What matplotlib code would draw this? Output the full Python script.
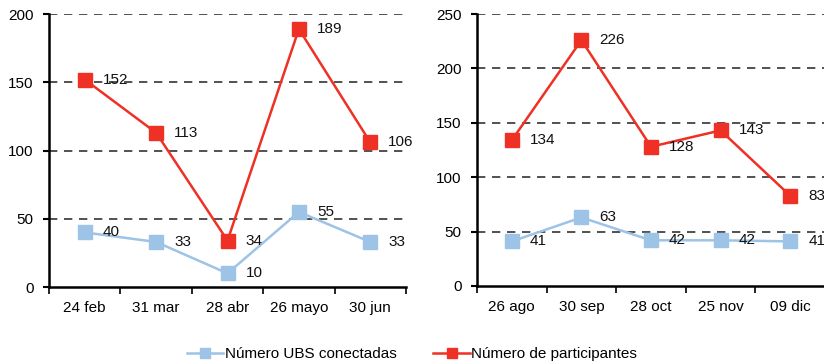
import matplotlib.pyplot as plt

plt.rcParams['font.family'] = ['Liberation Sans', 'DejaVu Sans']

labels_a = ['24 feb', '31 mar', '28 abr', '26 mayo', '30 jun']
ubs_a = [40, 33, 10, 55, 33]
part_a = [152, 113, 34, 189, 106]

labels_b = ['26 ago', '30 sep', '28 oct', '25 nov', '09 dic']
ubs_b = [41, 63, 42, 42, 41]
part_b = [134, 226, 128, 143, 83]

blue = '#9DC3E6'
red = '#EE3124'

fig = plt.figure(figsize=(8.24, 3.64), dpi=100)
ax1 = fig.add_axes([0.0595, 0.2115, 0.4332, 0.75])
ax2 = fig.add_axes([0.5789, 0.2143, 0.4223, 0.7472])


def draw(ax, labels, ubs, part, ymax):
    x = list(range(len(labels)))
    ax.plot(x, ubs, color=blue, lw=1.8, marker='s', ms=9.5, mec=blue, mfc=blue,
            label='Número UBS conectadas', zorder=3, clip_on=False)
    ax.plot(x, part, color=red, lw=1.8, marker='s', ms=9.5, mec=red, mfc=red,
            label='Número de participantes', zorder=3, clip_on=False)
    for xs in (ubs, part):
        for i, v in enumerate(xs):
            ax.annotate(str(v), (i, v), xytext=(13, 0), textcoords='offset points',
                        ha='left', va='center', fontsize=11, color='#111111',
                        annotation_clip=False, zorder=4)
    ax.set_xlim(-0.5, len(labels) - 0.5)
    ax.set_ylim(0, ymax)
    ax.set_yticks(range(0, ymax + 1, 50))
    ax.tick_params(axis='y', length=4, width=1.5, labelsize=11, pad=7)
    ax.set_xticks([i - 0.5 for i in range(len(labels) + 1)])
    ax.set_xticklabels([])
    ax.set_xticks(x, minor=True)
    ax.set_xticklabels(labels, minor=True, fontsize=11)
    ax.tick_params(axis='x', which='major', length=5, width=1.2)
    ax.tick_params(axis='x', which='minor', length=0, pad=10)
    for g in range(50, ymax + 1, 50):
        ax.axhline(g, color='#333333', lw=1.2, ls=(0, (5, 4)), zorder=1)
    for s in ('top', 'right'):
        ax.spines[s].set_visible(False)
    ax.spines['left'].set_linewidth(1.8)
    ax.spines['bottom'].set_linewidth(1.8)


draw(ax1, labels_a, ubs_a, part_a, 200)
draw(ax2, labels_b, ubs_b, part_b, 250)

handles, lbls = ax1.get_legend_handles_labels()
fig.legend(handles, lbls, loc='center', bbox_to_anchor=(0.5, 0.027), ncol=2,
           frameon=False, fontsize=11, handlelength=2.4, handletextpad=0.1,
           columnspacing=2.4, markerscale=0.8)

fig.savefig('out.png', dpi=100)
